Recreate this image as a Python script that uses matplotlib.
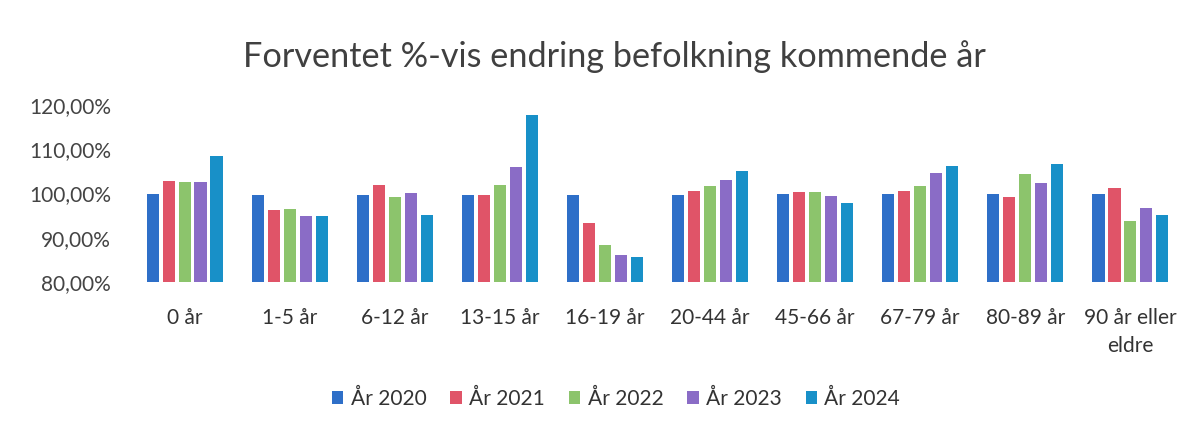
import matplotlib
matplotlib.use("Agg")
import matplotlib.pyplot as plt
import numpy as np

categories = ["0 år", "1-5 år", "6-12 år", "13-15 år", "16-19 år", "20-44 år",
              "45-66 år", "67-79 år", "80-89 år", "90 år eller\neldre"]
series_names = ["År 2020", "År 2021", "År 2022", "År 2023", "År 2024"]
y2020 = [99.8, 99.7, 99.6, 99.6, 99.7, 99.7, 99.8, 99.8, 99.8, 99.9]
y2021 = [102.8, 96.2, 101.9, 99.6, 93.4, 100.6, 100.4, 100.6, 99.2, 101.3]
y2022 = [102.6, 96.6, 99.1, 101.9, 88.3, 101.7, 100.4, 101.8, 104.5, 93.8]
y2023 = [102.6, 95.0, 100.2, 105.9, 86.2, 103.1, 99.5, 104.6, 102.3, 96.8]
y2024 = [108.5, 95.0, 95.2, 117.7, 85.7, 105.0, 97.9, 106.2, 106.6, 95.2]
yticks = [80, 90, 100, 110, 120]
colors = ["#2e6fc8", "#e05468", "#8cc46c", "#8a6cc6", "#1890c8"]

plt.rcParams['font.family'] = ['Lato', 'DejaVu Sans']
fig = plt.figure(figsize=(12.03, 4.29), dpi=100)
ax = fig.add_axes([132/1203, (429-282)/429, (1183-132)/1203, (282-105)/429])

series = [y2020, y2021, y2022, y2023, y2024]
x = np.arange(len(categories))
slot = 0.152
bw = 0.115
for i, (vals, name, c) in enumerate(zip(series, series_names, colors)):
    ax.bar(x + (i - 2) * slot, np.array(vals) - 80, bottom=80, width=bw,
           color=c, label=name)

ax.set_ylim(80, 120)
ax.set_xlim(-0.5, len(categories) - 0.5)
ax.set_yticks(yticks)
ax.set_yticklabels([f"{v},00%" for v in yticks], fontsize=15, color="#444444")
ax.set_xticks(x)
ax.set_xticklabels(categories, fontsize=15, color="#333333", linespacing=1.5)
ax.tick_params(length=0)
ax.tick_params(axis='y', pad=15)
ax.tick_params(axis='x', pad=19)
for s in ax.spines.values():
    s.set_visible(False)

fig.text(614/1203, 1 - 57/429, "Forventet %-vis endring befolkning kommende år",
         ha="center", va="center", fontsize=24.7, color="#404040")

leg = fig.legend(loc="center", bbox_to_anchor=(616/1203, 1 - 399/429), ncol=5,
                 frameon=False, fontsize=15, handlelength=0.55, handleheight=0.55,
                 handletextpad=0.35, columnspacing=1.15)
for t in leg.get_texts():
    t.set_color("#333333")

fig.savefig("out.png", dpi=100, facecolor="white")
